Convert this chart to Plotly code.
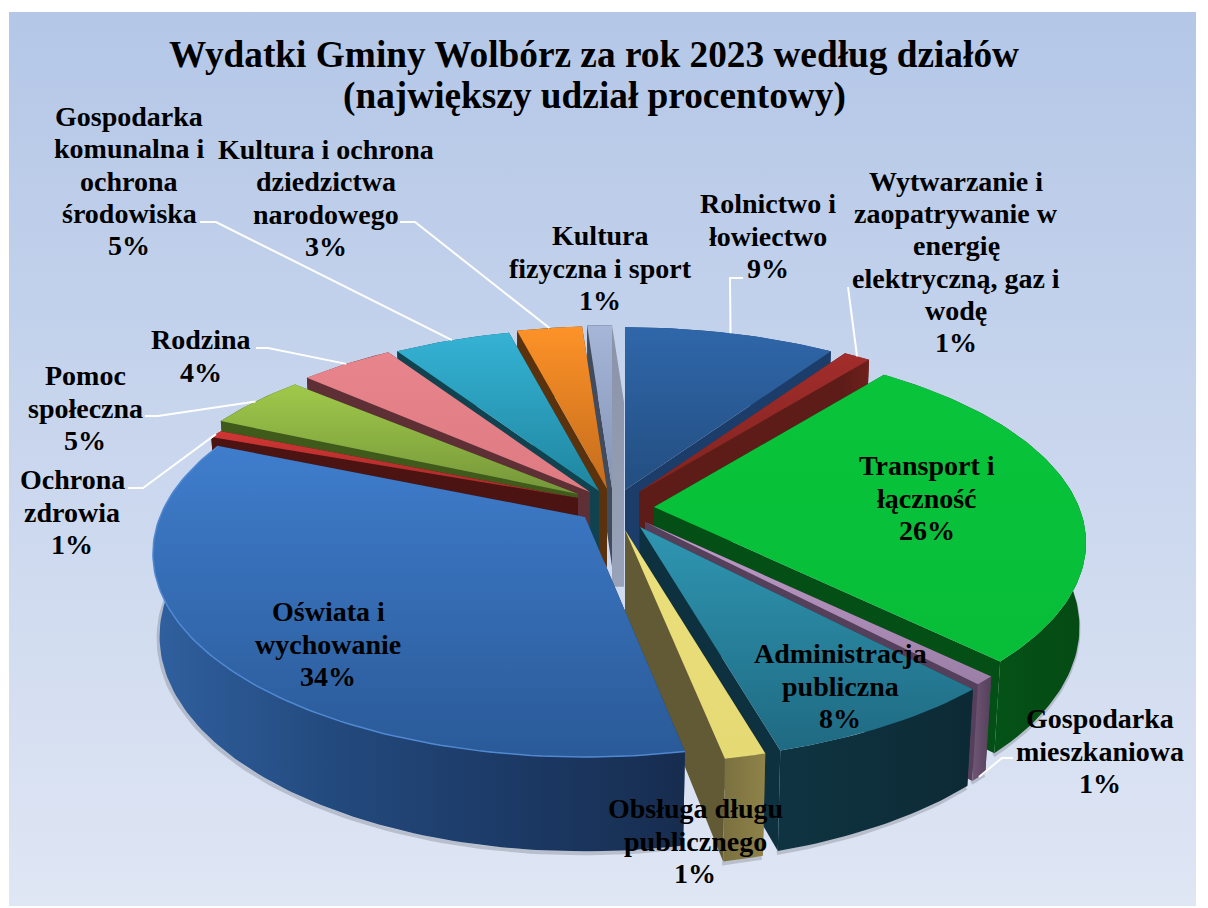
import math
import plotly.graph_objects as go

# ---- data ----
categories = ["Rolnictwo i<br>łowiectwo",
              "Wytwarzanie i<br>zaopatrywanie w<br>energię<br>elektryczną, gaz i<br>wodę",
              "Transport i<br>łączność", "Gospodarka<br>mieszkaniowa", "Administracja<br>publiczna",
              "Obsługa długu<br>publicznego", "Oświata i<br>wychowanie", "Ochrona<br>zdrowia",
              "Pomoc<br>społeczna", "Rodzina", "Gospodarka<br>komunalna i<br>ochrona<br>środowiska",
              "Kultura i ochrona<br>dziedzictwa<br>narodowego", "Kultura<br>fizyczna i sport"]
label_percent = [9, 1, 26, 1, 8, 1, 34, 1, 5, 4, 5, 3, 1]
slice_share = [9.4, 1.2, 26.8, 0.7, 7.5, 1.3, 34.4, 0.7, 4.6, 4.2, 5.2, 2.9, 1.1]
title_lines = ["Wydatki Gminy Wolbórz za rok 2023 według działów", "(największy udział procentowy)"]

# ---- styles / layout ----
W, H_FIG = 1208, 908
R, RT, KP, MP, DEPTH = 425.0, 192.0, 0.18, 0.015, 80.0
tips = [(625, 490), (639, 492), (654, 507), (645, 522), (640, 527), (625, 530), (585, 517),
        (578, 498), (578, 494), (590, 492), (599, 491), (607, 489), (612, 488)]
y_scale = [1, 1, 1, 1, 1, 1, 1.025, 0.88, 0.96, 1, 1, 1, 1]
depth_scale = [1, 1, 1.05, 1.1, 1.1, 1.12, 1.03, 1, 1, 1, 1, 1, 1]
top_colors = [("#2f67aa", "#234e80"), ("#a32d2b", "#7e2320"), ("#08c43b", "#08bd38"),
              ("#c09ccb", "#9b7fa6"), ("#2f96b2", "#1f6a82"), ("#ece07c", "#e5d974"),
              ("#3f7dcc", "#2a5a98"), ("#cf3634", "#a52a28"), ("#a0c94a", "#75963a"),
              ("#e8848c", "#dd7a82"), ("#35b2d4", "#1f86a0"), ("#fd9228", "#c46c1c"),
              ("#a6b6d9", "#8494b5")]
wall_left = ["#1c3d6a", "#5e1c18", "#044f15", "#54405a", "#0e3140", "#615a35", "#1a3058",
             "#4b1412", "#3f5a1a", "#5e3035", "#104250", "#5a330e", "#414b5e"]
wall_outer = [("#1c3d6a", "#1c3d6a"), ("#5e1c18", "#6e201c"), ("#065c1a", "#044a14"),
              ("#705676", "#54405a"), ("#0f3441", "#0c2a35"), ("#7a7040", "#8f8349"),
              ("#30609f", "#234a7e", "#1c3a66", "#172d4f"), ("#4b1412", "#4b1412"), ("#3f5a1a", "#3f5a1a"),
              ("#5e3035", "#5e3035"), ("#104250", "#104250"), ("#5a330e", "#5a330e"),
              ("#414b5e", "#414b5e")]
edge_highlight = {6: "#5088d2"}
shadowed = {2, 3, 4, 5, 6}
draw_order = [12, 11, 10, 9, 8, 7, 0, 1, 2, 3, 4, 5, 6]
label_pos = [(768, 236), (956, 262), (927, 498), (1100, 751), (840, 686), (695, 841), (328, 644),
             (72, 512), (85, 408), (201, 356), (129, 181), (326, 198), (600, 268)]
leaders = {0: [(730, 278), (743, 278)], 1: [(848, 287)], 3: [(1002, 758), (1013, 758)],
           7: [(143, 488), (128, 488)], 8: [(158, 416), (145, 416)], 9: [(268, 348), (256, 348)],
           10: [(216, 222), (200, 222)], 11: [(415, 222), (400, 222)]}
FONT = "Liberation Serif"
LABEL_SIZE, LABEL_GAP = 28, 32.2
TITLE_SIZE, TITLE_YS, TITLE_X = 37.3, (54, 96), 594


def project(i, theta, radius, z):
    tip = tips[i]
    u, v = math.sin(theta) * radius, math.cos(theta) * radius
    w = 1 + KP * v + MP * z
    return tip[0] + R * u / w, tip[1] + (-RT * v * y_scale[i] + DEPTH * depth_scale[i] * z) / w


def poly(fig, pts, colors, kind):
    xs = [p[0] for p in pts] + [pts[0][0]]
    ys = [p[1] for p in pts] + [pts[0][1]]
    axis = ys if kind == "vertical" else xs
    scale = [[j / (len(colors) - 1), c] for j, c in enumerate(colors)]
    fig.add_trace(go.Scatter(x=xs, y=ys, mode="lines", line=dict(width=0), fill="toself",
                             fillgradient=dict(type=kind, start=min(axis), stop=max(axis), colorscale=scale),
                             hoverinfo="skip", showlegend=False))


def stroke(fig, pts, color, width):
    fig.add_trace(go.Scatter(x=[p[0] for p in pts], y=[p[1] for p in pts], mode="lines",
                             line=dict(color=color, width=width), hoverinfo="skip", showlegend=False))


fig = go.Figure()
# background panel
poly(fig, [(9, 12), (1196, 12), (1196, 906), (9, 906)], ("#b4c7e7", "#dfe6f4"), "vertical")

total = sum(slice_share)
edges = [0.0]
for s in slice_share:
    edges.append(edges[-1] + s / total * 2 * math.pi)

mids = {}
for i in draw_order:
    a0, a1 = edges[i], edges[i + 1]
    tip = tips[i]
    n = max(3, int((a1 - a0) / 0.02))
    arc = [a0 + (a1 - a0) * j / n for j in range(n + 1)]
    top_arc = [project(i, a, 1, 0) for a in arc]
    bot_arc = [project(i, a, 1, 1) for a in arc]
    tip_bot = project(i, 0, 0, 1)
    mids[i] = (project(i, (a0 + a1) / 2, 1, 0), project(i, (a0 + a1) / 2, 1, 1))
    c = wall_left[i]
    if i in shadowed:
        stroke(fig, [(p[0] - 1, p[1] + 2) for p in bot_arc], "rgba(60,60,70,0.22)", 4)
    if i == 12:  # last slice: its pale closing wall shows in the gap
        poly(fig, [top_arc[-1], (top_arc[-1][0] + 12, bot_arc[-1][1] + 8), (tip_bot[0] + 12, tip_bot[1] + 20),
                   (tip[0], tip_bot[1] + 20)], ("#8a93a8", "#98a2b8"), "vertical")
    poly(fig, [tip, top_arc[0], bot_arc[0], tip_bot], (c, c), "vertical")
    poly(fig, [tip, top_arc[-1], bot_arc[-1], tip_bot], (c, c), "vertical")
    poly(fig, top_arc + bot_arc[::-1], wall_outer[i], "horizontal")
    poly(fig, [tip] + top_arc, top_colors[i], "vertical")
    if i in edge_highlight:
        stroke(fig, top_arc, edge_highlight[i], 1.5)

# leader lines start on the slice edge they belong to
for i, pts in leaders.items():
    anchor = mids[i][1] if i == 3 else mids[i][0]
    stroke(fig, [anchor] + pts, "white", 2)

annotations = [dict(x=TITLE_X, y=y, xref="x", yref="y", text="<b>%s</b>" % t, showarrow=False,
                    font=dict(family=FONT, size=TITLE_SIZE, color="black"))
               for t, y in zip(title_lines, TITLE_YS)]
for name, pct, pos in zip(categories, label_percent, label_pos):
    lines = name.split("<br>") + ["%d%%" % pct]
    for k, t in enumerate(lines):
        annotations.append(dict(x=pos[0], y=pos[1] + (k - (len(lines) - 1) / 2) * LABEL_GAP,
                                xref="x", yref="y", text="<b>%s</b>" % t, showarrow=False,
                                font=dict(family=FONT, size=LABEL_SIZE, color="black")))

fig.update_layout(width=W, height=H_FIG, margin=dict(l=0, r=0, t=0, b=0), autosize=False,
                  paper_bgcolor="white", plot_bgcolor="white", showlegend=False,
                  xaxis=dict(range=[0, W], visible=False, fixedrange=True),
                  yaxis=dict(range=[H_FIG, 0], visible=False, fixedrange=True),
                  annotations=annotations)
fig.write_html("out.html", config={"displayModeBar": False},
               post_script="document.body.style.margin='0';document.documentElement.style.overflow='hidden';")
